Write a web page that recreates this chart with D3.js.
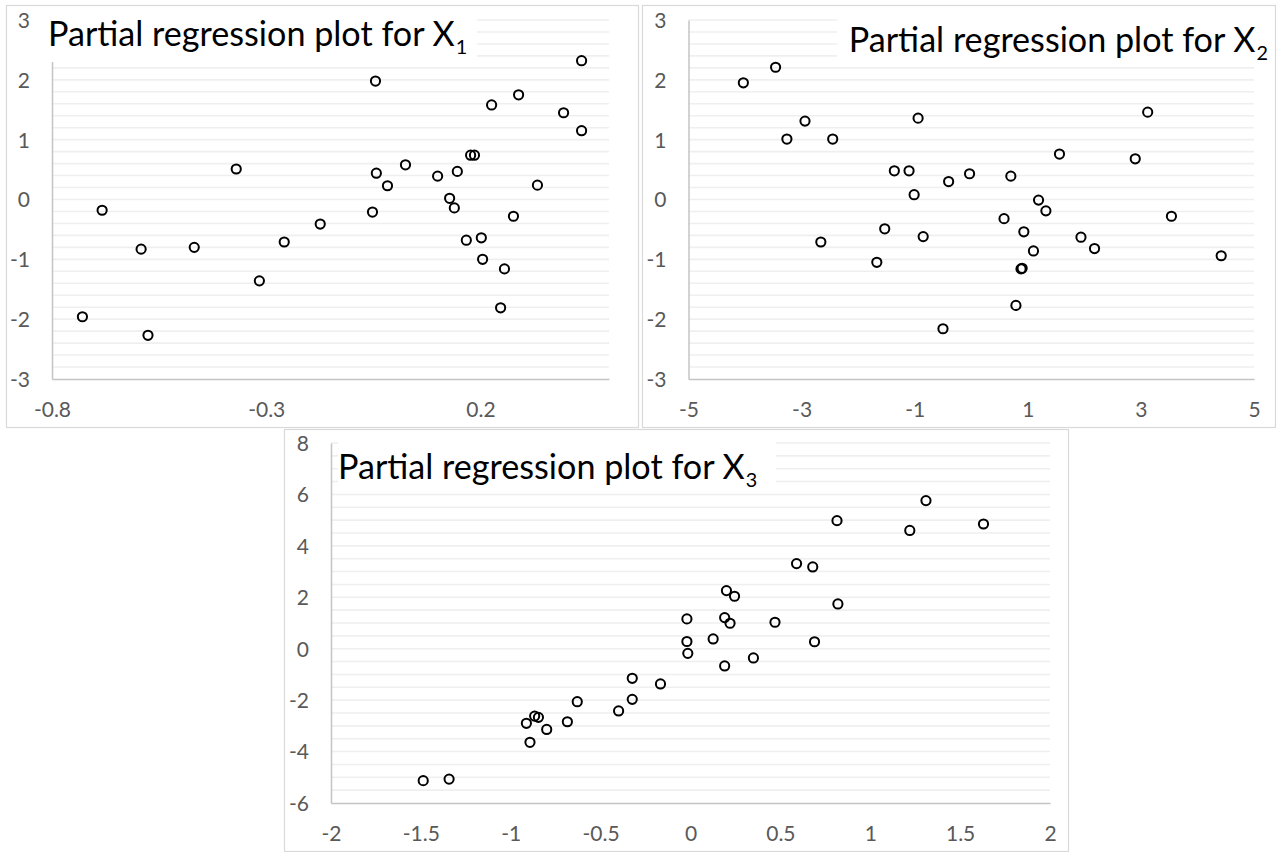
<!DOCTYPE html>
<html>
<head>
<meta charset="utf-8">
<script src="https://cdn.jsdelivr.net/npm/d3@7"></script>
<style>
  html, body { margin: 0; padding: 0; background: #fff; }
  svg { display: block; }
  .tick text { font-family: Lato, "Open Sans", sans-serif; fill: #595959; }
  .title { font-family: Lato, "Open Sans", sans-serif; fill: #000; }
</style>
</head>
<body>
<svg id="chart"></svg>
<script>
// ---- data ----
const titleText = 'Partial regression plot for X';
const subscripts = ['1', '2', '3'];

const x1Vals = [-0.37, -0.683, -0.592, -0.468, -0.174, -0.258, -0.316, -0.729, -0.576, 0.436,
                -0.045, 0.289, 0.226, 0.394, 0.436, 0.177, 0.186, 0.025, -0.043, -0.017,
                0.100, 0.146, 0.333, 0.128, 0.139, -0.052, 0.277, 0.167, 0.202, 0.205,
                0.256, 0.247];
const y1Vals = [0.51, -0.18, -0.83, -0.80, -0.41, -0.71, -1.36, -1.96, -2.27, 2.32,
                1.98, 1.75, 1.58, 1.45, 1.15, 0.74, 0.74, 0.58, 0.44, 0.23,
                0.39, 0.47, 0.24, 0.02, -0.14, -0.21, -0.28, -0.68, -0.64, -1.00,
                -1.16, -1.81];

const x2Vals = [-4.03, -3.46, -2.94, -3.26, -2.45, -0.94, -1.36, -1.10, -1.01, -0.40,
                3.12, 1.56, 2.90, -0.03, 0.70, 1.19, 1.32, -2.66, -1.53, -0.85,
                -1.67, -0.50, 3.54, 0.58, 0.93, 1.94, 2.18, 1.10, 4.42, 0.88,
                0.90, 0.79];
const y2Vals = [1.95, 2.21, 1.31, 1.01, 1.01, 1.36, 0.48, 0.48, 0.08, 0.30,
                1.46, 0.76, 0.68, 0.43, 0.39, -0.01, -0.19, -0.71, -0.49, -0.62,
                -1.05, -2.16, -0.28, -0.32, -0.54, -0.63, -0.82, -0.86, -0.94, -1.16,
                -1.15, -1.77];

const x3Vals = [1.31, 0.815, 1.22, 1.63, 0.59, 0.68, 0.20, 0.245, 0.82, -0.02,
                0.19, 0.22, 0.47, -0.02, 0.126, 0.69, -0.015, 0.35, 0.19, -0.167,
                -0.324, -0.324, -0.40, -0.63, -0.685, -0.867, -0.846, -0.913, -0.80, -0.893,
                -1.487, -1.343];
const y3Vals = [5.76, 4.98, 4.60, 4.85, 3.31, 3.18, 2.26, 2.04, 1.74, 1.16,
                1.21, 0.99, 1.03, 0.28, 0.38, 0.27, -0.18, -0.36, -0.67, -1.37,
                -1.15, -1.97, -2.42, -2.06, -2.84, -2.62, -2.67, -2.90, -3.14, -3.64,
                -5.13, -5.07];

const x1Ticks = [-0.8, -0.3, 0.2];
const x2Ticks = [-5, -3, -1, 1, 3, 5];
const x3Ticks = [-2, -1.5, -1, -0.5, 0, 0.5, 1, 1.5, 2];
const y12Ticks = [-3, -2, -1, 0, 1, 2, 3];
const y3Ticks = [-6, -4, -2, 0, 2, 4, 6, 8];

// ---- layout ----
const panels = [
    {
        xs: x1Vals, ys: y1Vals, xTicks: x1Ticks, yTicks: y12Ticks,
        xDomain: [-0.8, 0.5], yDomain: [-3, 3], minor: 0.2,
        frame: [6, 5, 638, 427], plot: [52, 20, 609, 379],
        titleBox: [40, 8, 477, 62], titleX: 48, titleY: 46, anchor: 'start', sub: subscripts[0]
    },
    {
        xs: x2Vals, ys: y2Vals, xTicks: x2Ticks, yTicks: y12Ticks,
        xDomain: [-5, 5], yDomain: [-3, 3], minor: 0.2,
        frame: [642, 5, 1275, 427], plot: [688.5, 20, 1254, 379],
        titleBox: [837, 8, 1270, 62], titleX: 1268, titleY: 52, anchor: 'end', sub: subscripts[1]
    },
    {
        xs: x3Vals, ys: y3Vals, xTicks: x3Ticks, yTicks: y3Ticks,
        xDomain: [-2, 2], yDomain: [-6, 8], minor: 0.5,
        frame: [284, 429, 1068, 851], plot: [331, 443, 1050, 803],
        titleBox: [338, 436, 776, 489], titleX: 338, titleY: 479, anchor: 'start', sub: subscripts[2]
    }
];

const svg = d3.select('#chart').attr('width', 1277).attr('height', 852);

panels.forEach(p => {
    const g = svg.append('g');
    const [fx0, fy0, fx1, fy1] = p.frame;
    const [px0, py0, px1, py1] = p.plot;

    g.append('rect')
        .attr('x', fx0 + 0.5).attr('y', fy0 + 0.5)
        .attr('width', fx1 - fx0).attr('height', fy1 - fy0)
        .attr('fill', '#fff').attr('stroke', '#d9d9d9').attr('stroke-width', 1.2);

    const x = d3.scaleLinear().domain(p.xDomain).range([px0, px1]);
    const y = d3.scaleLinear().domain(p.yDomain).range([py1, py0]);

    // gridlines every minor step (major ones look the same)
    const grid = d3.range(p.yDomain[0] + p.minor, p.yDomain[1] + p.minor / 2, p.minor);
    g.append('g').selectAll('line')
        .data(grid)
        .enter()
        .append('line')
        .attr('x1', px0).attr('x2', px1)
        .attr('y1', d => y(d)).attr('y2', d => y(d))
        .attr('stroke', '#efefef').attr('stroke-width', 1.6);

    // axes (plain hyphen for negatives, like the reference)
    const fmt = d => String(d);
    const yAxis = g.append('g')
        .attr('transform', `translate(${px0},0)`)
        .call(d3.axisLeft(y).tickValues(p.yTicks).tickSize(0).tickSizeOuter(0).tickPadding(22).tickFormat(fmt));
    const xAxis = g.append('g')
        .attr('transform', `translate(0,${py1})`)
        .call(d3.axisBottom(x).tickValues(p.xTicks).tickSize(0).tickSizeOuter(0).tickFormat(fmt));

    [yAxis, xAxis].forEach(a => {
        a.select('.domain').attr('stroke', '#c4c4c4').attr('stroke-width', 1.5);
        a.selectAll('.tick text').attr('font-size', 21);
    });
    xAxis.selectAll('.tick text').attr('y', 31).attr('dy', '0.35em');
    yAxis.selectAll('.tick text').attr('dy', '0.35em');

    // title with white box behind it
    const [tx0, ty0, tx1, ty1] = p.titleBox;
    g.append('rect')
        .attr('x', tx0).attr('y', ty0)
        .attr('width', tx1 - tx0).attr('height', ty1 - ty0)
        .attr('fill', '#fff');

    const title = g.append('text')
        .attr('class', 'title')
        .attr('x', p.titleX).attr('y', p.titleY)
        .attr('text-anchor', p.anchor);
    const main = title.append('tspan').attr('font-size', 36).text(titleText);
    // fit the main text to the width measured on the reference
    const w = main.node().getComputedTextLength();
    const fs = 36 * 407 / w;
    main.attr('font-size', fs);
    title.append('tspan')
        .attr('font-size', fs * 0.58)
        .attr('dx', 1)
        .attr('dy', 8)
        .text(p.sub);

    // points
    g.append('g').selectAll('circle')
        .data(p.xs.map((v, i) => [v, p.ys[i]]))
        .enter()
        .append('circle')
        .attr('cx', d => x(d[0]))
        .attr('cy', d => y(d[1]))
        .attr('r', 4.6)
        .attr('fill', 'none')
        .attr('stroke', '#000')
        .attr('stroke-width', 2);
});
</script>
</body>
</html>
